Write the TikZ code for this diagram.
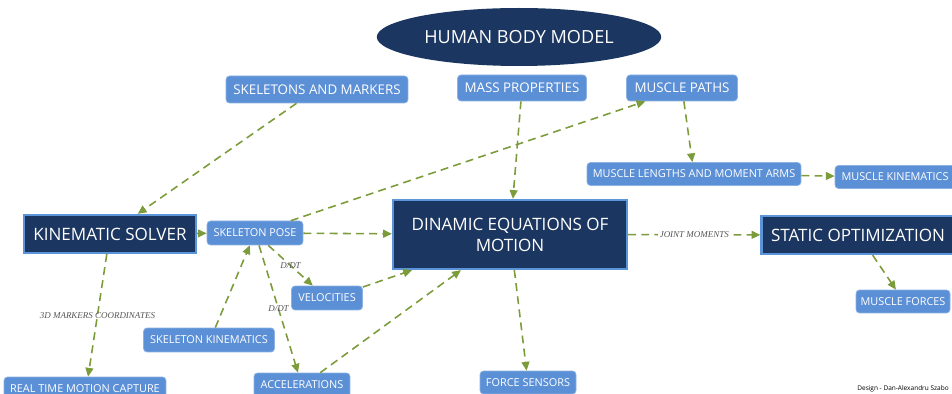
\documentclass[tikz,border=0pt]{standalone}
\usepackage{fontspec}
\setmainfont{Open Sans}
\newfontfamily\lblfont{Liberation Serif}
\usetikzlibrary{arrows.meta,shapes.geometric}
\definecolor{navy}{HTML}{1B3660}
\definecolor{boxblue}{HTML}{5B8FD6}
\definecolor{rimblue}{HTML}{5C94DA}
\definecolor{lineg}{HTML}{7C9C3C}
\definecolor{lblgray}{HTML}{555555}
\begin{document}
\begin{tikzpicture}[x=0.02cm,y=-0.02cm,
    leaf/.style={draw=boxblue!70!white,fill=boxblue,rounded corners=2pt,text=white,
      font=\fontsize{6.2}{7}\selectfont,inner sep=1pt,line width=0.4pt},
    leaftop/.style={leaf,font=\fontsize{7.6}{8}\selectfont},
    hub/.style={draw=rimblue,fill=navy,text=white,line width=1.3pt,
      font=\fontsize{9.7}{12}\selectfont,inner sep=1pt,align=center},
    link/.style={draw=lineg,line width=0.9pt,dash pattern=on 4.5pt off 3pt,
      -{Triangle[length=5pt,width=4.5pt]}},
    tag/.style={font=\lblfont\itshape\fontsize{5.1}{6}\selectfont,text=lblgray,inner sep=1pt}]
  \useasboundingbox (0,0) rectangle (952,394);

  \node[ellipse,fill=navy,text=white,minimum width=4.56cm,minimum height=1.16cm,
    font=\fontsize{10.3}{12}\selectfont] (hbm) at (519,37) {HUMAN BODY MODEL};

  \node[leaftop,minimum width=3.64cm,minimum height=0.54cm] (skm) at (317,89.5) {SKELETONS AND MARKERS};
  \node[leaftop,minimum width=2.58cm,minimum height=0.52cm] (mass) at (522,88) {MASS PROPERTIES};
  \node[leaftop,minimum width=2.22cm,minimum height=0.52cm] (mp) at (682,88) {MUSCLE PATHS};
  \node[leaf,minimum width=4.28cm,minimum height=0.46cm] (mlen) at (694,174) {MUSCLE LENGTHS AND MOMENT ARMS};
  \node[leaf,minimum width=2.40cm,minimum height=0.46cm] (mkin) at (895,177) {MUSCLE KINEMATICS};

  \node[hub,minimum width=3.44cm,minimum height=0.76cm] (ks) at (110,234) {KINEMATIC SOLVER};
  \node[leaf,minimum width=1.92cm,minimum height=0.48cm] (sp) at (255,233) {SKELETON POSE};
  \node[hub,minimum width=4.68cm,minimum height=1.38cm] (dem) at (510,234.5) {DINAMIC EQUATIONS OF\\MOTION};
  \node[hub,minimum width=3.86cm,minimum height=0.76cm] (so) at (858,235) {STATIC OPTIMIZATION};

  \node[leaf,minimum width=1.42cm,minimum height=0.48cm] (vel) at (327,298) {VELOCITIES};
  \node[leaf,minimum width=2.62cm,minimum height=0.48cm] (skk) at (209,340) {SKELETON KINEMATICS};
  \node[leaf,minimum width=1.92cm,minimum height=0.48cm] (acc) at (302,385) {ACCELERATIONS};
  \node[leaf,minimum width=3.24cm,minimum height=0.48cm] (rtmc) at (85,389) {REAL TIME MOTION CAPTURE};
  \node[leaf,minimum width=1.92cm,minimum height=0.46cm] (fs) at (528,382.5) {FORCE SENSORS};
  \node[leaf,minimum width=1.88cm,minimum height=0.46cm] (mf) at (903,301.5) {MUSCLE FORCES};

  \node[font=\fontsize{3.7}{4}\selectfont,anchor=west,inner sep=0pt] (sign) at (857,389) {Design - Dan-Alexandru Szabo};

  \draw[link] (skm.-146) -- (ks.36);
  \draw[link] (ks.-99) -- node[tag]{3D MARKERS COORDINATES} (rtmc.76);
  \draw[link] (ks) -- (sp);
  \draw[link] (sp) -- (dem);
  \draw[link] (sp.19) -- (mp.-160);
  \draw[link] (mass) -- (dem);
  \draw[link] (mp) -- (mlen);
  \draw[link] (mlen) -- (mkin);
  \draw[link] (sp.-43) -- node[tag]{D/DT} (vel.139);
  \draw[link] (sp.-72) -- node[tag]{D/DT} (acc.108);
  \draw[link] (skk.63) -- (sp.-113);
  \draw[link] (vel.17) -- (dem.-160);
  \draw[link] (acc.34) -- (dem.-144);
  \draw[link] (dem) -- node[tag,fill=white]{JOINT MOMENTS} (so);
  \draw[link] (dem) -- (fs);
  \draw[link] (so.-54) -- (mf.121);
\end{tikzpicture}
\end{document}
